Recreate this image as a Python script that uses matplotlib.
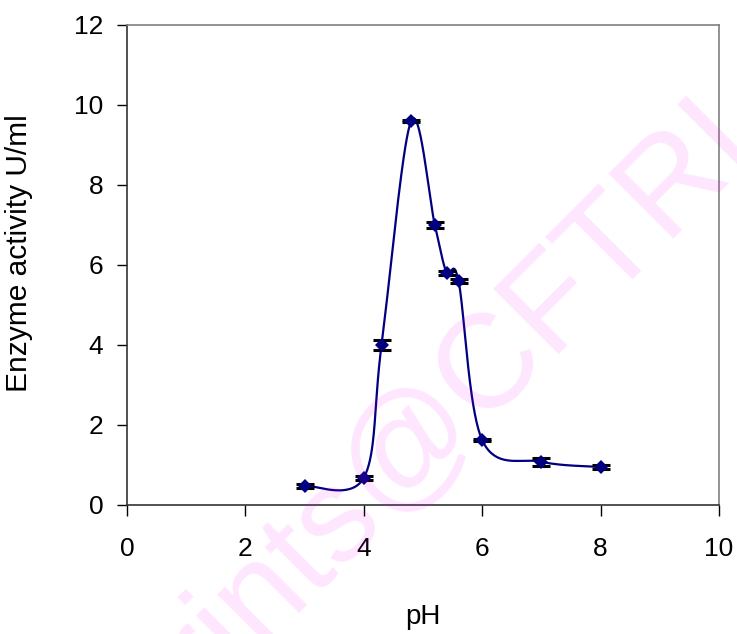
# %%
import numpy as np
import matplotlib

matplotlib.use("Agg")
import matplotlib.pyplot as plt

plt.rcParams["font.family"] = ["Liberation Sans", "DejaVu Sans"]

# %%
ph = [3, 4, 4.3, 4.8, 5.2, 5.4, 5.6, 6, 7, 8]
activity = [0.48, 0.68, 4.0, 9.6, 7.0, 5.8, 5.6, 1.62, 1.08, 0.95]
error = [0.05, 0.05, 0.12, 0.03, 0.08, 0.05, 0.05, 0.03, 0.1, 0.05]

x_ticks = [0, 2, 4, 6, 8, 10]
y_ticks = [0, 2, 4, 6, 8, 10, 12]


# %%
## Excel-style smoothed line (Catmull-Rom through the points)
def smooth_line(xs, ys, steps=40):
    pts = np.column_stack([xs, ys]).astype(float)
    ext = np.vstack([pts[0], pts, pts[-1]])
    out = []
    t = np.linspace(0, 1, steps)[:, None]
    for i in range(1, len(ext) - 2):
        p0, p1, p2, p3 = ext[i - 1], ext[i], ext[i + 1], ext[i + 2]
        c1 = p1 + (p2 - p0) / 6
        c2 = p2 - (p3 - p1) / 6
        seg = (
            (1 - t) ** 3 * p1
            + 3 * (1 - t) ** 2 * t * c1
            + 3 * (1 - t) * t**2 * c2
            + t**3 * p2
        )
        out.append(seg)
    curve = np.vstack(out)
    return curve[:, 0], curve[:, 1]


sx, sy = smooth_line(ph, activity)

# %%
fig = plt.figure(figsize=(7.37, 6.34), dpi=100)
ax = fig.add_axes([0.1723, 0.2035, 0.8033, 0.7571])

ax.plot(sx, sy, color="#000080", lw=1.6, zorder=2)
ax.errorbar(
    ph,
    activity,
    yerr=error,
    fmt="none",
    ecolor="black",
    elinewidth=1.5,
    capsize=6.5,
    capthick=2.2,
    zorder=3,
)
ax.plot(
    ph, activity, "D", color="#000080", markersize=7.5, markeredgewidth=0, zorder=4
)

ax.set_xlim(0, 10)
ax.set_ylim(0, 12)
ax.set_xticks(x_ticks)
ax.set_yticks(y_ticks)
ax.tick_params(axis="x", direction="out", length=8, width=1, pad=15, labelsize=19)
ax.tick_params(axis="y", direction="out", length=7, width=1, pad=10, labelsize=19)
ax.spines["left"].set_color("#333333")
ax.spines["bottom"].set_color("#333333")
ax.spines["top"].set_color("#808080")
ax.spines["right"].set_color("#808080")
for s in ax.spines.values():
    s.set_linewidth(1.2)

ax.set_xlabel("pH", fontsize=20, labelpad=31)
ax.set_ylabel("Enzyme activity U/ml", fontsize=21.5)
ax.yaxis.set_label_coords(-0.159, 0.524)

## watermark
fig.text(
    0.619,
    0.295,
    "prints@CFTRI",
    fontsize=96,
    color=(1, 0, 1),
    alpha=0.1,
    rotation=45,
    rotation_mode="anchor",
    ha="center",
    va="baseline",
    zorder=10,
)

fig.savefig("out.png", dpi=100)
